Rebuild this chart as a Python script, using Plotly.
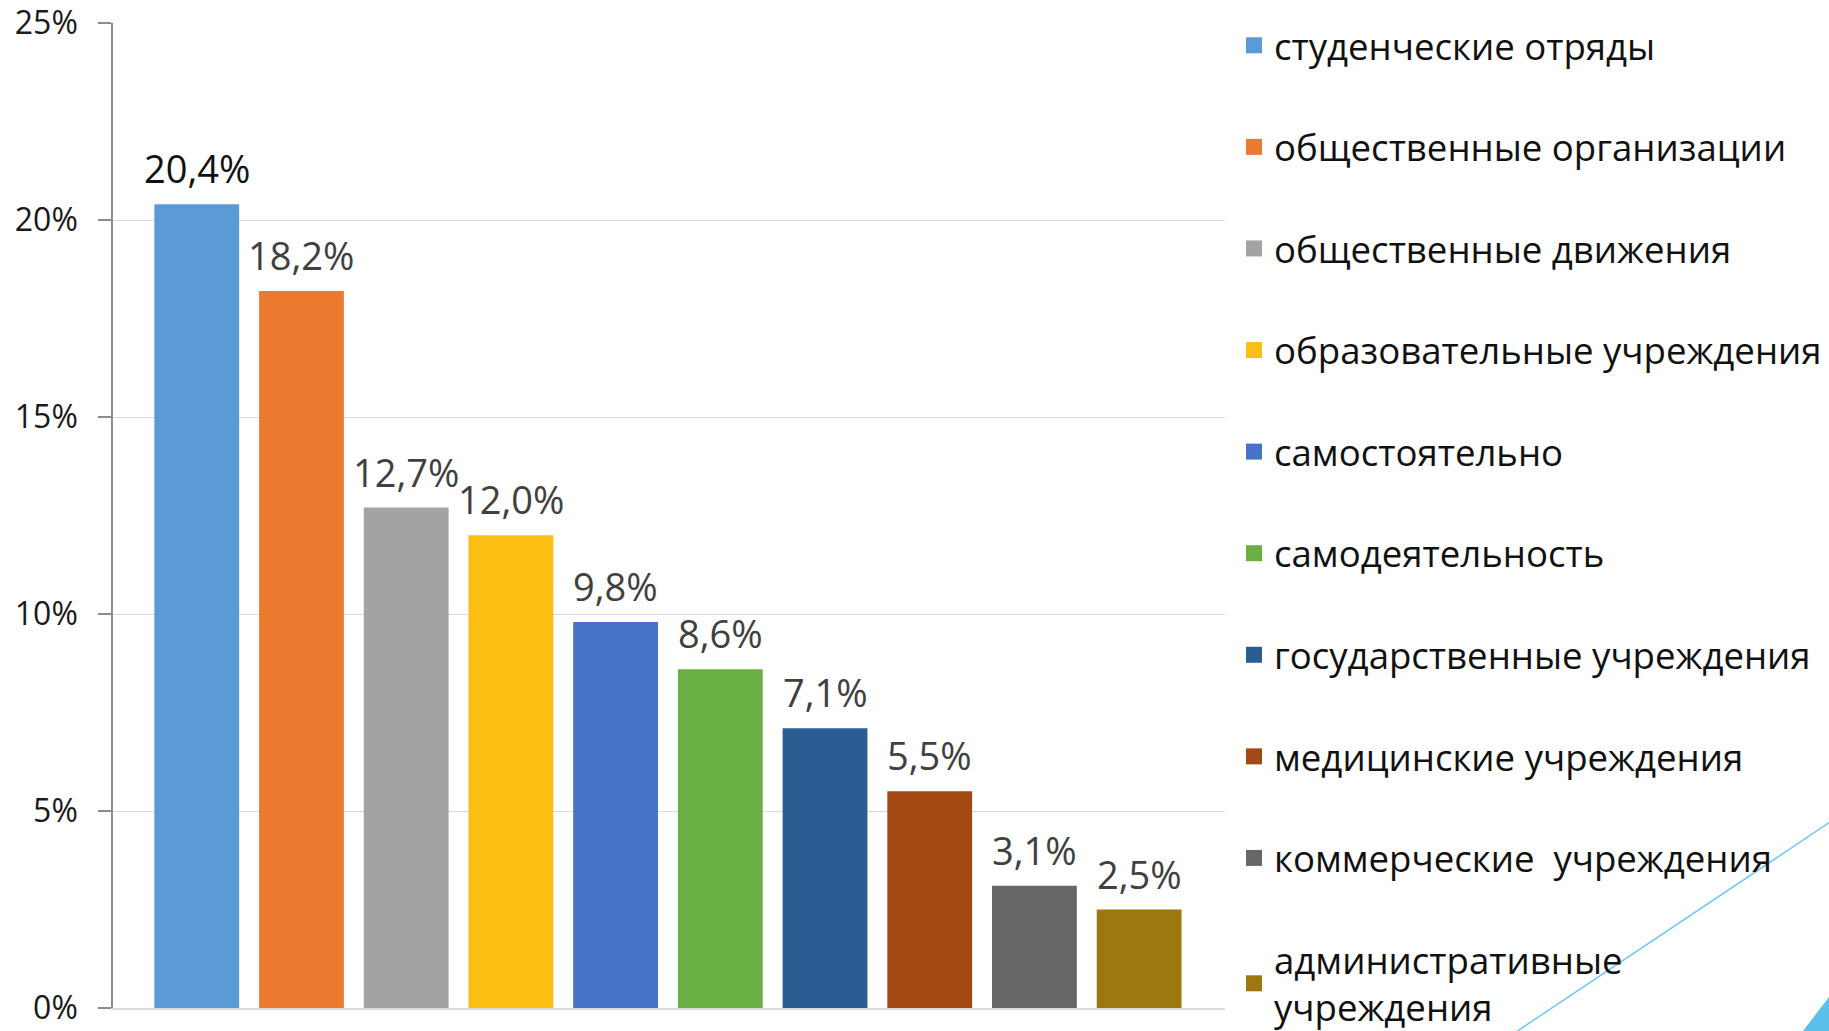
import plotly.graph_objects as go

categories = [
    "студенческие отряды",
    "общественные организации",
    "общественные движения",
    "образовательные учреждения",
    "самостоятельно",
    "самодеятельность",
    "государственные учреждения",
    "медицинские учреждения",
    "коммерческие\u00a0 учреждения",
    "административные<br>учреждения",
]
values = [20.4, 18.2, 12.7, 12.0, 9.8, 8.6, 7.1, 5.5, 3.1, 2.5]
colors = ["#5B9BD5", "#EC7A2E", "#A3A3A3", "#FBBF14", "#4673C8",
          "#6AAF43", "#2A5E93", "#A34A14", "#676767", "#9D7810"]
label_colors = ["#111111"] + ["#404040"] * 9
y_ticks = [0, 5, 10, 15, 20, 25]

W, H = 1829, 1031
L, R, T, B = 113, 604, 23, 23
pw, ph = W - L - R, H - T - B


def px(x):
    return (x - L) / pw


def py(y):
    return (H - B - y) / ph


fig = go.Figure()
fig.add_trace(go.Bar(
    x=list(range(len(values))), y=values,
    marker=dict(color=colors, line=dict(width=0)),
    width=0.81,
    showlegend=False,
    hoverinfo="skip",
))

for i, v in enumerate(values):
    fig.add_annotation(
        x=i, y=v, xref="x", yref="y",
        text=f"{v:.1f}".replace(".", ",") + "%",
        showarrow=False, yanchor="bottom", xanchor="center", yshift=8,
        font=dict(family="Open Sans", size=38, color=label_colors[i]),
    )

for name, c in zip(categories, colors):
    fig.add_trace(go.Scatter(
        x=[None], y=[None], mode="markers", name=name,
        marker=dict(symbol="square", size=16, color=c),
        legendgroup=name, showlegend=True,
    ))

# decorative corner elements
fig.add_shape(type="line", xref="paper", yref="paper",
              x0=px(1480), y0=py(1056), x1=px(1860), y1=py(802),
              line=dict(color="#6CCBEA", width=1.5))
fig.add_shape(type="path", xref="paper", yref="paper",
              path=f"M {px(1803)} {py(1031)} L {px(1829)} {py(1031)} L {px(1829)} {py(997)} Z",
              fillcolor="#5BC0EB", line=dict(width=0))

fig.update_layout(
    width=W, height=H,
    margin=dict(l=L, r=R, t=T, b=B, autoexpand=False),
    paper_bgcolor="white", plot_bgcolor="white",
    font=dict(family="Open Sans", color="#111111"),
    legend=dict(
        x=px(1234), xanchor="left", y=py(15), yanchor="top",
        font=dict(family="Open Sans", size=36.6, color="#111111"),
        tracegroupgap=51, itemsizing="trace", maxheight=1,
        bgcolor="rgba(0,0,0,0)",
    ),
    xaxis=dict(
        range=[-0.8, 9.82], showticklabels=False, showgrid=False,
        zeroline=False, showline=True, linecolor="#d9d9d9", linewidth=1.5,
        ticks="",
    ),
    yaxis=dict(
        range=[0, 25], tickvals=y_ticks, ticktext=[f"{v}%" for v in y_ticks],
        showgrid=True, gridcolor="#d9d9d9", gridwidth=1.2,
        zeroline=False, showline=True, linecolor="#8c8c8c", linewidth=1.5,
        ticks="outside", ticklen=13, tickcolor="#8c8c8c", tickwidth=1.5,
        tickfont=dict(family="Open Sans", size=32, color="#1a1a1a"),
        ticklabelstandoff=14,
    ),
)

fig.write_html(
    "out.html",
    config={"displayModeBar": False},
    post_script="document.body.style.margin='0';document.body.style.overflow='hidden';",
)
